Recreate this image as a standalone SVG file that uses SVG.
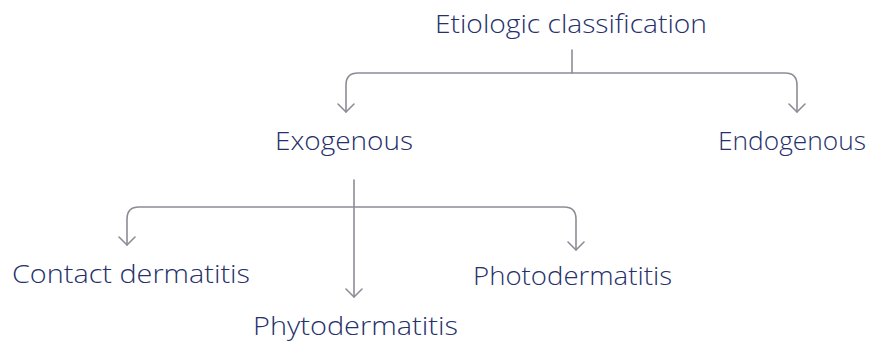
<svg xmlns="http://www.w3.org/2000/svg" width="869" height="352" viewBox="0 0 869 352">
  <style>
    .label { font-family: "Open Sans", "Liberation Sans", sans-serif; font-size: 25px; fill: #26306a; font-weight: 300; }
    .conn { fill: none; stroke: #8c8c96; stroke-width: 1.6; stroke-linecap: round; stroke-linejoin: round; }
  </style>
  <defs>
    <!-- open chevron arrowhead, drawn pointing along +x -->
    <marker id="arrow" viewBox="0 0 20 20" refX="18" refY="10" markerWidth="20" markerHeight="20" markerUnits="userSpaceOnUse" orient="auto-start-reverse">
      <path d="M10,2 L18,10 L10,18" fill="none" stroke="#8c8c96" stroke-width="1.6" stroke-linecap="round" stroke-linejoin="round"/>
    </marker>
  </defs>
  <rect width="869" height="352" fill="#ffffff"/>

  <g id="connectors">
    <!-- title to first level -->
    <path class="conn" d="M572,50 V73"/>
    <path class="conn" d="M346,112 V85 Q346,73 358,73 H785 Q797,73 797,85 V112" marker-start="url(#arrow)" marker-end="url(#arrow)"/>
    <!-- Exogenous to subtypes -->
    <path class="conn" d="M354,180 V297" marker-end="url(#arrow)"/>
    <path class="conn" d="M127,245 V219 Q127,207 139,207 H564 Q576,207 576,219 V250" marker-start="url(#arrow)" marker-end="url(#arrow)"/>
  </g>

  <g id="node-etiologic">
    <text class="label" x="435" y="33" textLength="272" lengthAdjust="spacingAndGlyphs">Etiologic classification</text>
  </g>
  <g id="node-exogenous">
    <text class="label" x="275" y="150" textLength="138" lengthAdjust="spacingAndGlyphs">Exogenous</text>
  </g>
  <g id="node-endogenous">
    <text class="label" x="718" y="150" textLength="148" lengthAdjust="spacingAndGlyphs">Endogenous</text>
  </g>
  <g id="node-contact">
    <text class="label" x="12" y="283" textLength="238" lengthAdjust="spacingAndGlyphs">Contact dermatitis</text>
  </g>
  <g id="node-phyto">
    <text class="label" x="253" y="335" textLength="205" lengthAdjust="spacingAndGlyphs">Phytodermatitis</text>
  </g>
  <g id="node-photo">
    <text class="label" x="473" y="285" textLength="199" lengthAdjust="spacingAndGlyphs">Photodermatitis</text>
  </g>
</svg>
